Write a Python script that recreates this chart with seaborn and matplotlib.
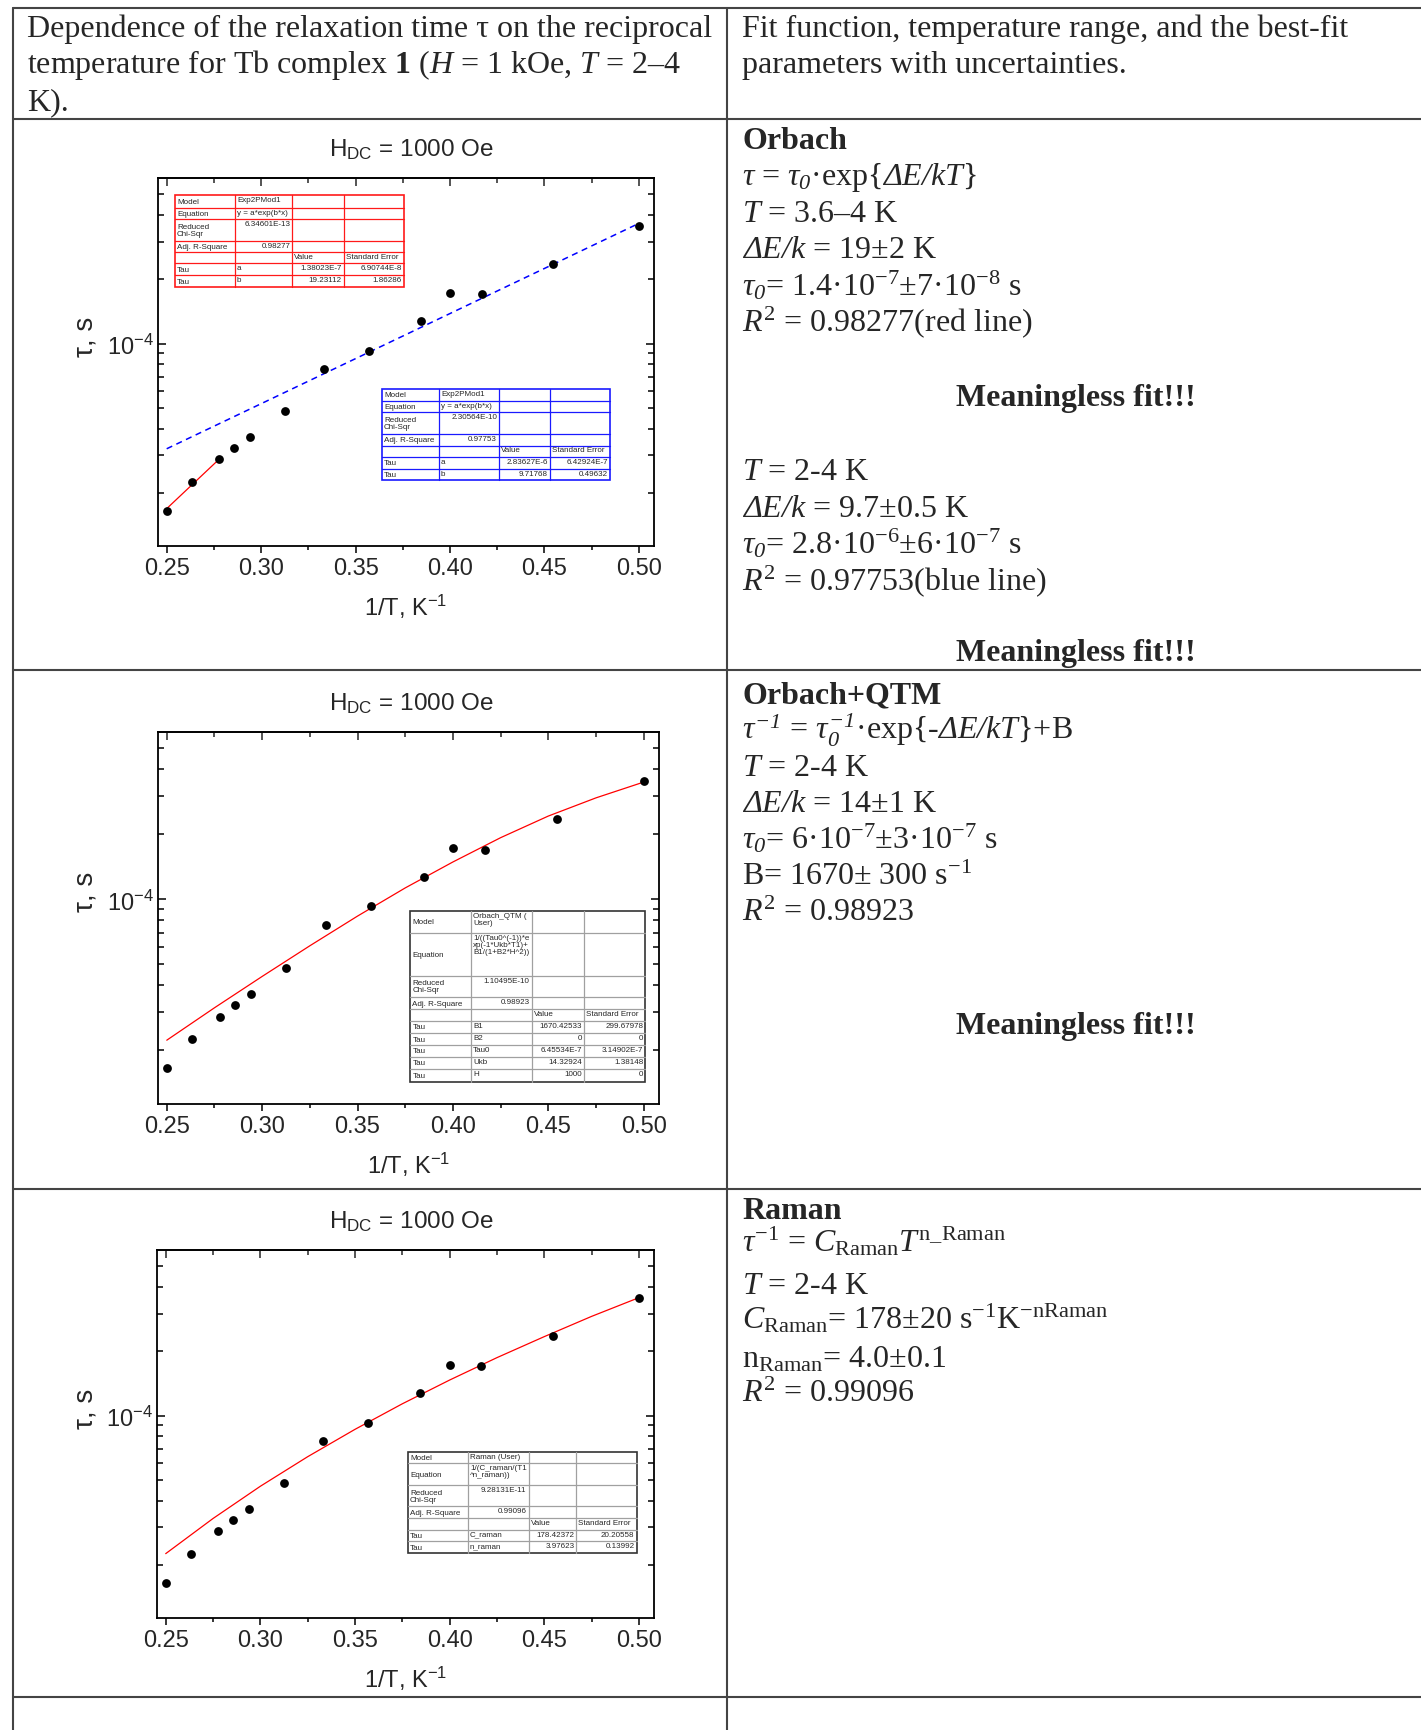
import numpy as np
import pandas as pd
import matplotlib
matplotlib.use("Agg")
import matplotlib.pyplot as plt
from matplotlib.lines import Line2D
from matplotlib.patches import Rectangle
from matplotlib.ticker import LogLocator, NullFormatter, MultipleLocator, FormatStrFormatter
import seaborn as sns

# relaxation time vs reciprocal temperature (same points in all three panels)
inv_T = [0.2500, 0.2632, 0.2778, 0.2857, 0.2941, 0.3125, 0.3333,
         0.3571, 0.3846, 0.4000, 0.4167, 0.4545, 0.5000]
tau = [1.65e-5, 2.25e-5, 2.87e-5, 3.26e-5, 3.66e-5, 4.82e-5, 7.6e-5,
       9.28e-5, 1.272e-4, 1.727e-4, 1.697e-4, 2.36e-4, 3.54e-4]

# fit curves
orbach_red_x = [0.2500, 0.2778]
orbach_red_y = [1.69e-5, 2.88e-5]
orbach_blue_x = [0.25, 0.50]
orbach_blue_y = [3.22e-5, 3.65e-4]
curve_x = [0.25, 0.275, 0.30, 0.325, 0.35, 0.375, 0.40, 0.425, 0.45, 0.475, 0.50]
qtm_y = [2.23e-5, 3.15e-5, 4.40e-5, 6.10e-5, 8.37e-5, 1.13e-4, 1.49e-4,
         1.93e-4, 2.43e-4, 2.95e-4, 3.49e-4]
raman_y = [2.26e-5, 3.30e-5, 4.67e-5, 6.42e-5, 8.62e-5, 1.135e-4, 1.466e-4,
           1.866e-4, 2.34e-4, 2.91e-4, 3.56e-4]

# Origin fit-report tables
red_cells = [["Model", "Exp2PMod1", "", ""],
             ["Equation", "y = a*exp(b*x)", "", ""],
             ["Reduced\nChi-Sqr", "6.34601E-13", "", ""],
             ["Adj. R-Square", "0.98277", "", ""],
             ["", "", "Value", "Standard Error"],
             ["Tau", "a", "1.38023E-7", "6.90744E-8"],
             ["Tau", "b", "19.23112", "1.86286"]]
blue_cells = [["Model", "Exp2PMod1", "", ""],
              ["Equation", "y = a*exp(b*x)", "", ""],
              ["Reduced\nChi-Sqr", "2.30564E-10", "", ""],
              ["Adj. R-Square", "0.97753", "", ""],
              ["", "", "Value", "Standard Error"],
              ["Tau", "a", "2.83627E-6", "6.42924E-7"],
              ["Tau", "b", "9.71768", "0.49632"]]
qtm_cells = [["Model", "Orbach_QTM (\nUser)", "", ""],
             ["Equation", "1/((Tau0^(-1))*e\nxp(-1*Ukb*T1)+\nB1/(1+B2*H^2))", "", ""],
             ["Reduced\nChi-Sqr", "1.10495E-10", "", ""],
             ["Adj. R-Square", "0.98923", "", ""],
             ["", "", "Value", "Standard Error"],
             ["Tau", "B1", "1670.42533", "299.67978"],
             ["Tau", "B2", "0", "0"],
             ["Tau", "Tau0", "6.45534E-7", "3.14902E-7"],
             ["Tau", "Ukb", "14.32924", "1.38148"],
             ["Tau", "H", "1000", "0"]]
raman_cells = [["Model", "Raman (User)", "", ""],
               ["Equation", "1/(C_raman/(T1\n^n_raman))", "", ""],
               ["Reduced\nChi-Sqr", "9.28131E-11", "", ""],
               ["Adj. R-Square", "0.99096", "", ""],
               ["", "", "Value", "Standard Error"],
               ["Tau", "C_raman", "178.42372", "20.20558"],
               ["Tau", "n_raman", "3.97623", "0.13992"]]

header_left = [r"Dependence of the relaxation time τ on the reciprocal",
               r"temperature for Tb complex $\mathbf{1}$ ($H$ = 1 kOe, $T$ = 2–4",
               r"K)."]
header_right = [r"Fit function, temperature range, and the best-fit",
                r"parameters with uncertainties."]

# \mathcal is mapped to the italic serif so that Greek capitals and digits stay italic
orbach_text = [r"$\tau$ = $\tau_{\mathcal{0}}$·exp{$\mathcal{\Delta E/kT}$}",
               r"$T$ = 3.6–4 K",
               r"$\mathcal{\Delta E/k}$ = 19±2 K",
               r"$\tau_{\mathcal{0}}$= 1.4·10$^{-7}$±7·10$^{-8}$ s",
               r"$R^{\mathrm{2}}$ = 0.98277(red line)"]
orbach_text2 = [r"$T$ = 2-4 K",
                r"$\mathcal{\Delta E/k}$ = 9.7±0.5 K",
                r"$\tau_{\mathcal{0}}$= 2.8·10$^{-6}$±6·10$^{-7}$ s",
                r"$R^{\mathrm{2}}$ = 0.97753(blue line)"]
qtm_text = [r"$\tau^{\mathcal{-1}}$ = $\tau_{\mathcal{0}}^{\mathcal{-1}}$·exp{-$\mathcal{\Delta E/kT}$}+B",
            r"$T$ = 2-4 K",
            r"$\mathcal{\Delta E/k}$ = 14±1 K",
            r"$\tau_{\mathcal{0}}$= 6·10$^{-7}$±3·10$^{-7}$ s",
            r"B= 1670± 300 s$^{-1}$",
            r"$R^{\mathrm{2}}$ = 0.98923"]
raman_text = [r"$\tau^{\mathrm{-1}}$ = $C_{\mathrm{Raman}}T^{\mathrm{n\_Raman}}$",
              r"$T$ = 2-4 K",
              r"$C_{\mathrm{Raman}}$= 178±20 s$^{-1}$K$^{\mathrm{-nRaman}}$",
              r"n$_{\mathrm{Raman}}$= 4.0±0.1",
              r"$R^{\mathrm{2}}$ = 0.99096"]

sns.set_style("ticks")
plt.rcParams["mathtext.fontset"] = "custom"
plt.rcParams["mathtext.rm"] = "Liberation Serif"
plt.rcParams["mathtext.it"] = "Liberation Serif:italic"
plt.rcParams["mathtext.cal"] = "Liberation Serif:italic"
plt.rcParams["mathtext.bf"] = "Liberation Serif:bold"
plt.rcParams["mathtext.sf"] = "Liberation Sans"
plt.rcParams["font.family"] = ["Liberation Sans", "DejaVu Sans"]

W, H = 1421, 1731
fig = plt.figure(figsize=(W / 100, H / 100), dpi=100)

SERIF = "Liberation Serif"
FS = 23


def put(x, y, s, **kw):
    kw.setdefault("fontsize", FS)
    kw.setdefault("family", SERIF)
    fig.text(x / W, 1 - y / H, s, va="baseline", **kw)


def hline(y, x0=13, x1=W):
    fig.add_artist(Line2D([x0 / W, x1 / W], [1 - y / H] * 2, color="#444444", lw=1.5))


def vline(x, y0=9, y1=H):
    fig.add_artist(Line2D([x / W] * 2, [1 - y0 / H, 1 - y1 / H], color="#444444", lw=1.5))


# document table grid
for y in [9, 119.5, 671, 1190, 1698]:
    hline(y)
vline(13)
vline(727)

for i, s in enumerate(header_left):
    put(27, 37 + 36.5 * i, s)
for i, s in enumerate(header_right):
    put(742, 37 + 36.5 * i, s)

# right column, Orbach
put(742, 149, "Orbach", weight="bold")
for i, s in enumerate(orbach_text):
    put(742, 185.5 + 36.5 * i, s)
put(1076, 406, "Meaningless fit!!!", weight="bold", ha="center")
for i, s in enumerate(orbach_text2):
    put(742, 480 + 36.6 * i, s)
put(1076, 661, "Meaningless fit!!!", weight="bold", ha="center")

# right column, Orbach+QTM
put(742, 703, "Orbach+QTM", weight="bold")
for i, s in enumerate(qtm_text):
    put(742, 740 + 36.2 * i, s)
put(1076, 1034, "Meaningless fit!!!", weight="bold", ha="center")

# right column, Raman
put(742, 1219, "Raman", weight="bold")
for s, y in zip(raman_text, [1252, 1294, 1329, 1367, 1402]):
    put(742, y, s)


def fit_table(ax, axbox, cols, rows, cells, edge, inner, fs=5.8):
    l, t, r, b = axbox
    fxa = lambda x: (x - l) / (r - l)
    fya = lambda y: (b - y) / (b - t)
    ax.add_patch(Rectangle((fxa(cols[0]), fya(rows[-1])), fxa(cols[-1]) - fxa(cols[0]),
                           fya(rows[0]) - fya(rows[-1]), transform=ax.transAxes,
                           facecolor="white", edgecolor=edge, lw=1.2, zorder=6))
    for x in cols[1:-1]:
        ax.plot([fxa(x)] * 2, [fya(rows[0]), fya(rows[-1])], transform=ax.transAxes,
                color=inner, lw=0.9, zorder=7)
    for y in rows[1:-1]:
        ax.plot([fxa(cols[0]), fxa(cols[-1])], [fya(y)] * 2, transform=ax.transAxes,
                color=inner, lw=0.9, zorder=7)
    for i, row in enumerate(cells):
        for j, s in enumerate(row):
            if not s:
                continue
            try:
                float(s)
                numeric = True
            except ValueError:
                numeric = False
            if j == 0:
                ax.text(fxa(cols[0] + 2), fya((rows[i] + rows[i + 1]) / 2), s,
                        transform=ax.transAxes, ha="left", va="center", fontsize=fs,
                        linespacing=1.0, zorder=8)
            else:
                x = cols[j + 1] - 2 if numeric else cols[j] + 2
                ax.text(fxa(x), fya(rows[i] + 1.0), s, transform=ax.transAxes,
                        ha="right" if numeric else "left", va="top", fontsize=fs,
                        linespacing=1.0, zorder=8)


pts = pd.DataFrame({"inv_T": inv_T, "tau": tau})


def panel(axbox):
    l, t, r, b = axbox
    ax = fig.add_axes([l / W, 1 - b / H, (r - l) / W, (b - t) / H])
    ax.set_yscale("log")
    sns.scatterplot(data=pts, x="inv_T", y="tau", ax=ax, color="black", s=40,
                    linewidth=0, legend=False, zorder=5)
    ax.set_xlim(0.2454, 0.508)
    ax.set_ylim(1.13e-5, 5.95e-4)
    ax.xaxis.set_major_locator(MultipleLocator(0.05))
    ax.xaxis.set_minor_locator(MultipleLocator(0.025))
    ax.xaxis.set_major_formatter(FormatStrFormatter("%.2f"))
    ax.yaxis.set_major_locator(LogLocator(base=10))
    ax.yaxis.set_minor_locator(LogLocator(base=10, subs=np.arange(2, 10)))
    ax.yaxis.set_minor_formatter(NullFormatter())
    for sp in ax.spines.values():
        sp.set_linewidth(1.3)
        sp.set_color("black")
    ax.tick_params(axis="x", which="both", direction="out", top=False, labelsize=17,
                   pad=3, width=1.1, color="black")
    ax.tick_params(axis="x", which="major", length=5)
    ax.tick_params(axis="x", which="minor", length=3)
    ax.tick_params(axis="y", which="both", direction="in", left=True, right=True,
                   labelsize=17, pad=3, width=1.1, color="black")
    ax.tick_params(axis="y", which="major", length=6)
    ax.tick_params(axis="y", which="minor", length=4)
    sec = ax.secondary_xaxis("top")
    sec.xaxis.set_major_locator(MultipleLocator(0.05))
    sec.xaxis.set_minor_locator(MultipleLocator(0.025))
    sec.tick_params(which="both", direction="in", labeltop=False, width=1.1)
    sec.tick_params(which="major", length=6)
    sec.tick_params(which="minor", length=3.5)
    sec.spines["top"].set_linewidth(1.3)
    ax.set_xlabel(r"1/T, K$\mathsf{^{-1}}$", fontsize=17)
    ax.xaxis.set_label_coords(0.5, -60 / (b - t))
    ax.xaxis.label.set_va("center")
    ax.set_ylabel("τ, s", fontsize=20)
    ax.yaxis.set_label_coords((86 - l) / (r - l), 0.572)
    ax.yaxis.label.set_va("center")
    ax.text((411 - l) / (r - l), 1 + 23 / (b - t), r"$\mathsf{H_{DC}}$ = 1000 Oe",
            transform=ax.transAxes, ha="center", va="baseline", fontsize=17.5)
    return ax


box1 = (158, 179, 654, 547)
ax1 = panel(box1)
sns.lineplot(x=orbach_red_x, y=orbach_red_y, ax=ax1, color="red", lw=0.9,
             estimator=None, sort=False, zorder=4)
sns.lineplot(x=orbach_blue_x, y=orbach_blue_y, ax=ax1, color="blue", lw=1.1,
             linestyle=(0, (4, 3)), estimator=None, sort=False, zorder=4)
fit_table(ax1, box1, [175, 235, 292.3, 343.5, 404],
          [196, 209, 220, 242, 253, 264, 276, 288], red_cells, "#ff1a1a", "#ff1a1a")
fit_table(ax1, box1, [382, 439, 499, 550, 610],
          [390, 401.7, 413, 435, 446.5, 458, 469.5, 481], blue_cells, "#1a1aff", "#1a1aff")

box2 = (158, 733, 659, 1105)
ax2 = panel(box2)
sns.lineplot(x=curve_x, y=qtm_y, ax=ax2, color="red", lw=0.9,
             estimator=None, sort=False, zorder=4)
fit_table(ax2, box2, [410.3, 471.2, 531.7, 584.3, 645.2],
          [911.7, 934.3, 976.7, 998.3, 1010, 1021.7, 1034, 1046, 1057.7, 1070, 1083.3],
          qtm_cells, "#333333", "#a0a0a0")

box3 = (157, 1251, 654, 1619)
ax3 = panel(box3)
sns.lineplot(x=curve_x, y=raman_y, ax=ax3, color="red", lw=0.9,
             estimator=None, sort=False, zorder=4)
fit_table(ax3, box3, [408, 468, 528.6, 576.4, 636.5],
          [1452.7, 1464.3, 1486, 1507.3, 1519, 1530.7, 1542, 1554.3],
          raman_cells, "#333333", "#a0a0a0")

plt.savefig("out.png", dpi=100)
